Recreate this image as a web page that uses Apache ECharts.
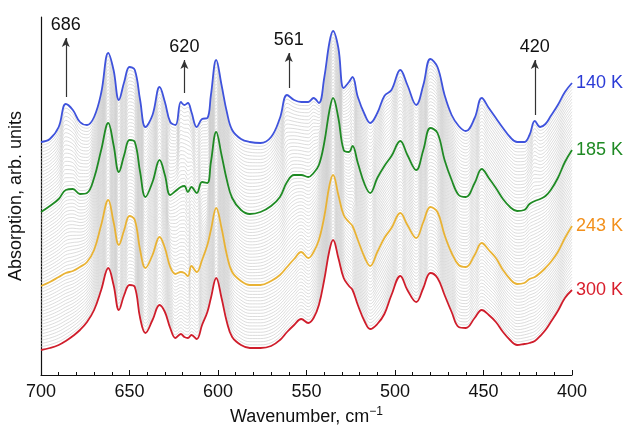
<!DOCTYPE html>
<html>
<head>
    <meta charset="utf-8">
    <title>Absorption spectra</title>
    <script src="https://cdn.jsdelivr.net/npm/echarts@6/dist/echarts.min.js"></script>
    <style>
        html, body { margin: 0; padding: 0; background: #fff; }
        #main { width: 630px; height: 433px; }
    </style>
</head>
<body>
<div id="main"></div>
<script>
    // wavenumber grid, cm-1
    var wavenumbers = [700, 695, 690, 686, 682, 678, 674, 670, 666, 662, 659, 656, 653, 650, 647, 644, 641, 637, 633, 630,
        627, 624, 621, 619, 617, 615, 612, 609, 606, 604, 601, 598, 595, 592, 587, 582, 576, 570, 565, 561,
        557, 553, 549, 546, 543, 540, 537, 535, 532, 529, 526, 524, 521, 517, 514, 510, 506, 502, 497, 493,
        488, 484, 480, 476, 472, 468, 464, 460, 455, 451, 447, 443, 439, 435, 431, 427, 424, 421, 418, 415,
        412, 408, 404, 400];

    // stacked spectra (with offset), arb. units
    var k140 = [233, 236, 248, 271, 265, 253, 250, 258, 282, 322, 305, 275, 293, 308, 305, 275, 248, 260, 288, 273,
        253, 250, 273, 270, 272, 263, 248, 256, 257, 280, 315, 290, 263, 245, 236, 233, 232, 238, 257, 280,
        275, 273, 273, 277, 272, 297, 333, 344, 327, 287, 293, 298, 278, 260, 252, 262, 279, 285, 305, 290,
        270, 290, 316, 308, 280, 260, 249, 244, 257, 277, 267, 257, 247, 238, 233, 233, 240, 254, 248, 251,
        259, 270, 283, 292];
    var k185 = [163, 169, 176, 185, 186, 181, 182, 197, 225, 252, 230, 203, 220, 235, 233, 203, 178, 193, 215, 200,
        180, 184, 188, 189, 183, 188, 182, 193, 192, 213, 243, 220, 195, 177, 165, 161, 163, 169, 178, 193,
        200, 200, 198, 202, 210, 232, 265, 277, 257, 225, 223, 229, 212, 190, 182, 197, 209, 219, 234, 220,
        205, 225, 247, 242, 215, 195, 180, 178, 192, 206, 197, 187, 176, 168, 164, 165, 171, 174, 176, 179,
        185, 197, 213, 225];
    var k243 = [89, 93, 98, 102, 104, 108, 113, 125, 150, 175, 153, 130, 145, 159, 155, 125, 107, 120, 138, 127,
        108, 101, 103, 102, 99, 109, 103, 115, 130, 145, 167, 147, 120, 103, 94, 90, 90, 94, 100, 108,
        116, 123, 117, 123, 135, 158, 190, 200, 180, 160, 153, 149, 135, 117, 109, 123, 137, 147, 162, 150,
        137, 153, 168, 163, 140, 122, 110, 108, 120, 132, 125, 117, 105, 96, 91, 92, 96, 98, 102, 107,
        113, 123, 137, 149];
    var k300 = [25, 27, 30, 34, 39, 45, 53, 65, 85, 107, 90, 65, 80, 90, 88, 57, 42, 55, 70, 63,
        47, 37, 41, 38, 37, 40, 36, 50, 63, 77, 97, 77, 53, 38, 30, 27, 27, 29, 35, 43,
        50, 56, 52, 57, 70, 95, 125, 135, 117, 97, 89, 85, 70, 53, 46, 51, 61, 80, 99, 85,
        73, 87, 102, 97, 80, 63, 48, 47, 57, 65, 60, 53, 43, 35, 30, 31, 32, 34, 39, 45,
        53, 64, 77, 85];

    var tempNames = ['140 K', '185 K', '243 K', '300 K'];
    var lineColors = ['#3f53dc', '#1f8a24', '#e8b234', '#cf1d2b'];
    var labelColors = ['#2b3bd6', '#1f8a24', '#f2901c', '#d81e2c'];
    // number of grey intermediate spectra between neighbouring coloured ones
    var grayCounts = [20, 22, 19];

    // peak markers
    var peakNames = ['686', '620', '561', '420'];
    var peakPos = [686, 619, 560, 421];
    var arrowFrom = [278, 282, 287, 260];
    var arrowTo = [337, 315, 322, 315];

    var spectra = [k140, k185, k243, k300];
    var font = 'Liberation Sans, Arial, sans-serif';

    function pairs(arr) {
        var out = [];
        for (var i = 0; i < wavenumbers.length; i++) {
            out.push([wavenumbers[i], arr[i]]);
        }
        return out;
    }

    var series = [];
    // NOTE: the ~60 grey background curves are too many to read one by one,
    // so they are linear blends of the two neighbouring coloured spectra
    // (an approximation of the grey band, not values)
    for (var s = 0; s < 3; s++) {
        var a = spectra[s], b = spectra[s + 1], n = grayCounts[s];
        for (var k = 1; k <= n; k++) {
            var t = k / (n + 1);
            var g = [];
            for (var i = 0; i < a.length; i++) {
                g.push(a[i] * (1 - t) + b[i] * t);
            }
            series.push({
                type: 'line',
                data: pairs(g),
                showSymbol: false,
                smooth: 0.4,
                silent: true,
                z: 1,
                lineStyle: { color: '#cdcdcd', width: 0.7 }
            });
        }
    }

    var arrows = [];
    for (var p = 0; p < peakNames.length; p++) {
        arrows.push([
            { coord: [peakPos[p], arrowFrom[p]], name: peakNames[p] },
            { coord: [peakPos[p], arrowTo[p]] }
        ]);
    }

    for (var c = 0; c < 4; c++) {
        var last = spectra[c][spectra[c].length - 1];
        var ser = {
            name: tempNames[c],
            type: 'line',
            data: pairs(spectra[c]),
            showSymbol: false,
            smooth: 0.4,
            z: 5,
            lineStyle: { color: lineColors[c], width: 1.8 },
            markPoint: {
                silent: true,
                symbol: 'circle',
                symbolSize: 0,
                label: {
                    show: true,
                    position: 'right',
                    distance: 4,
                    formatter: tempNames[c],
                    color: labelColors[c],
                    fontSize: 18,
                    fontFamily: font
                },
                data: [{ coord: [wavenumbers[wavenumbers.length - 1], last] }]
            }
        };
        if (c === 0) {
            ser.markLine = {
                silent: true,
                symbol: ['none', 'arrow'],
                symbolSize: [6, 9],
                lineStyle: { color: '#333', width: 1.2, type: 'solid' },
                label: {
                    show: true,
                    position: 'end',
                    formatter: '{b}',
                    color: '#111',
                    fontSize: 18,
                    fontFamily: font,
                    distance: 4
                },
                data: arrows
            };
        }
        series.push(ser);
    }

    var myChart = echarts.init(document.getElementById('main'));
    myChart.setOption({
        animation: false,
        grid: { left: 41, right: 58, top: 17, bottom: 58, outerBoundsMode: 'none' },
        xAxis: {
            type: 'value',
            min: 400,
            max: 700,
            interval: 50,
            inverse: true,
            name: 'Wavenumber, cm{sup|−1}',
            nameLocation: 'middle',
            nameGap: 30,
            nameTextStyle: {
                fontSize: 18,
                color: '#111',
                fontFamily: font,
                rich: {
                    sup: { fontSize: 12, color: '#111', padding: [0, 0, 10, 0] }
                }
            },
            axisLine: { lineStyle: { color: '#111', width: 1.2 } },
            axisTick: { inside: true, length: 5, lineStyle: { color: '#111' } },
            minorTick: { show: true, splitNumber: 5, length: 3, lineStyle: { color: '#111' } },
            axisLabel: {
                fontSize: 18,
                color: '#111',
                margin: 8,
                fontFamily: font
            },
            splitLine: { show: false }
        },
        yAxis: {
            type: 'value',
            min: 0,
            max: 358,
            name: 'Absorption, arb. units',
            nameLocation: 'middle',
            nameGap: 16,
            nameTextStyle: {
                fontSize: 18,
                color: '#111',
                fontFamily: font
            },
            axisLine: { show: true, lineStyle: { color: '#111', width: 1.2 } },
            axisTick: { show: false },
            axisLabel: { show: false },
            splitLine: { show: false }
        },
        series: series
    });
</script>
</body>
</html>
